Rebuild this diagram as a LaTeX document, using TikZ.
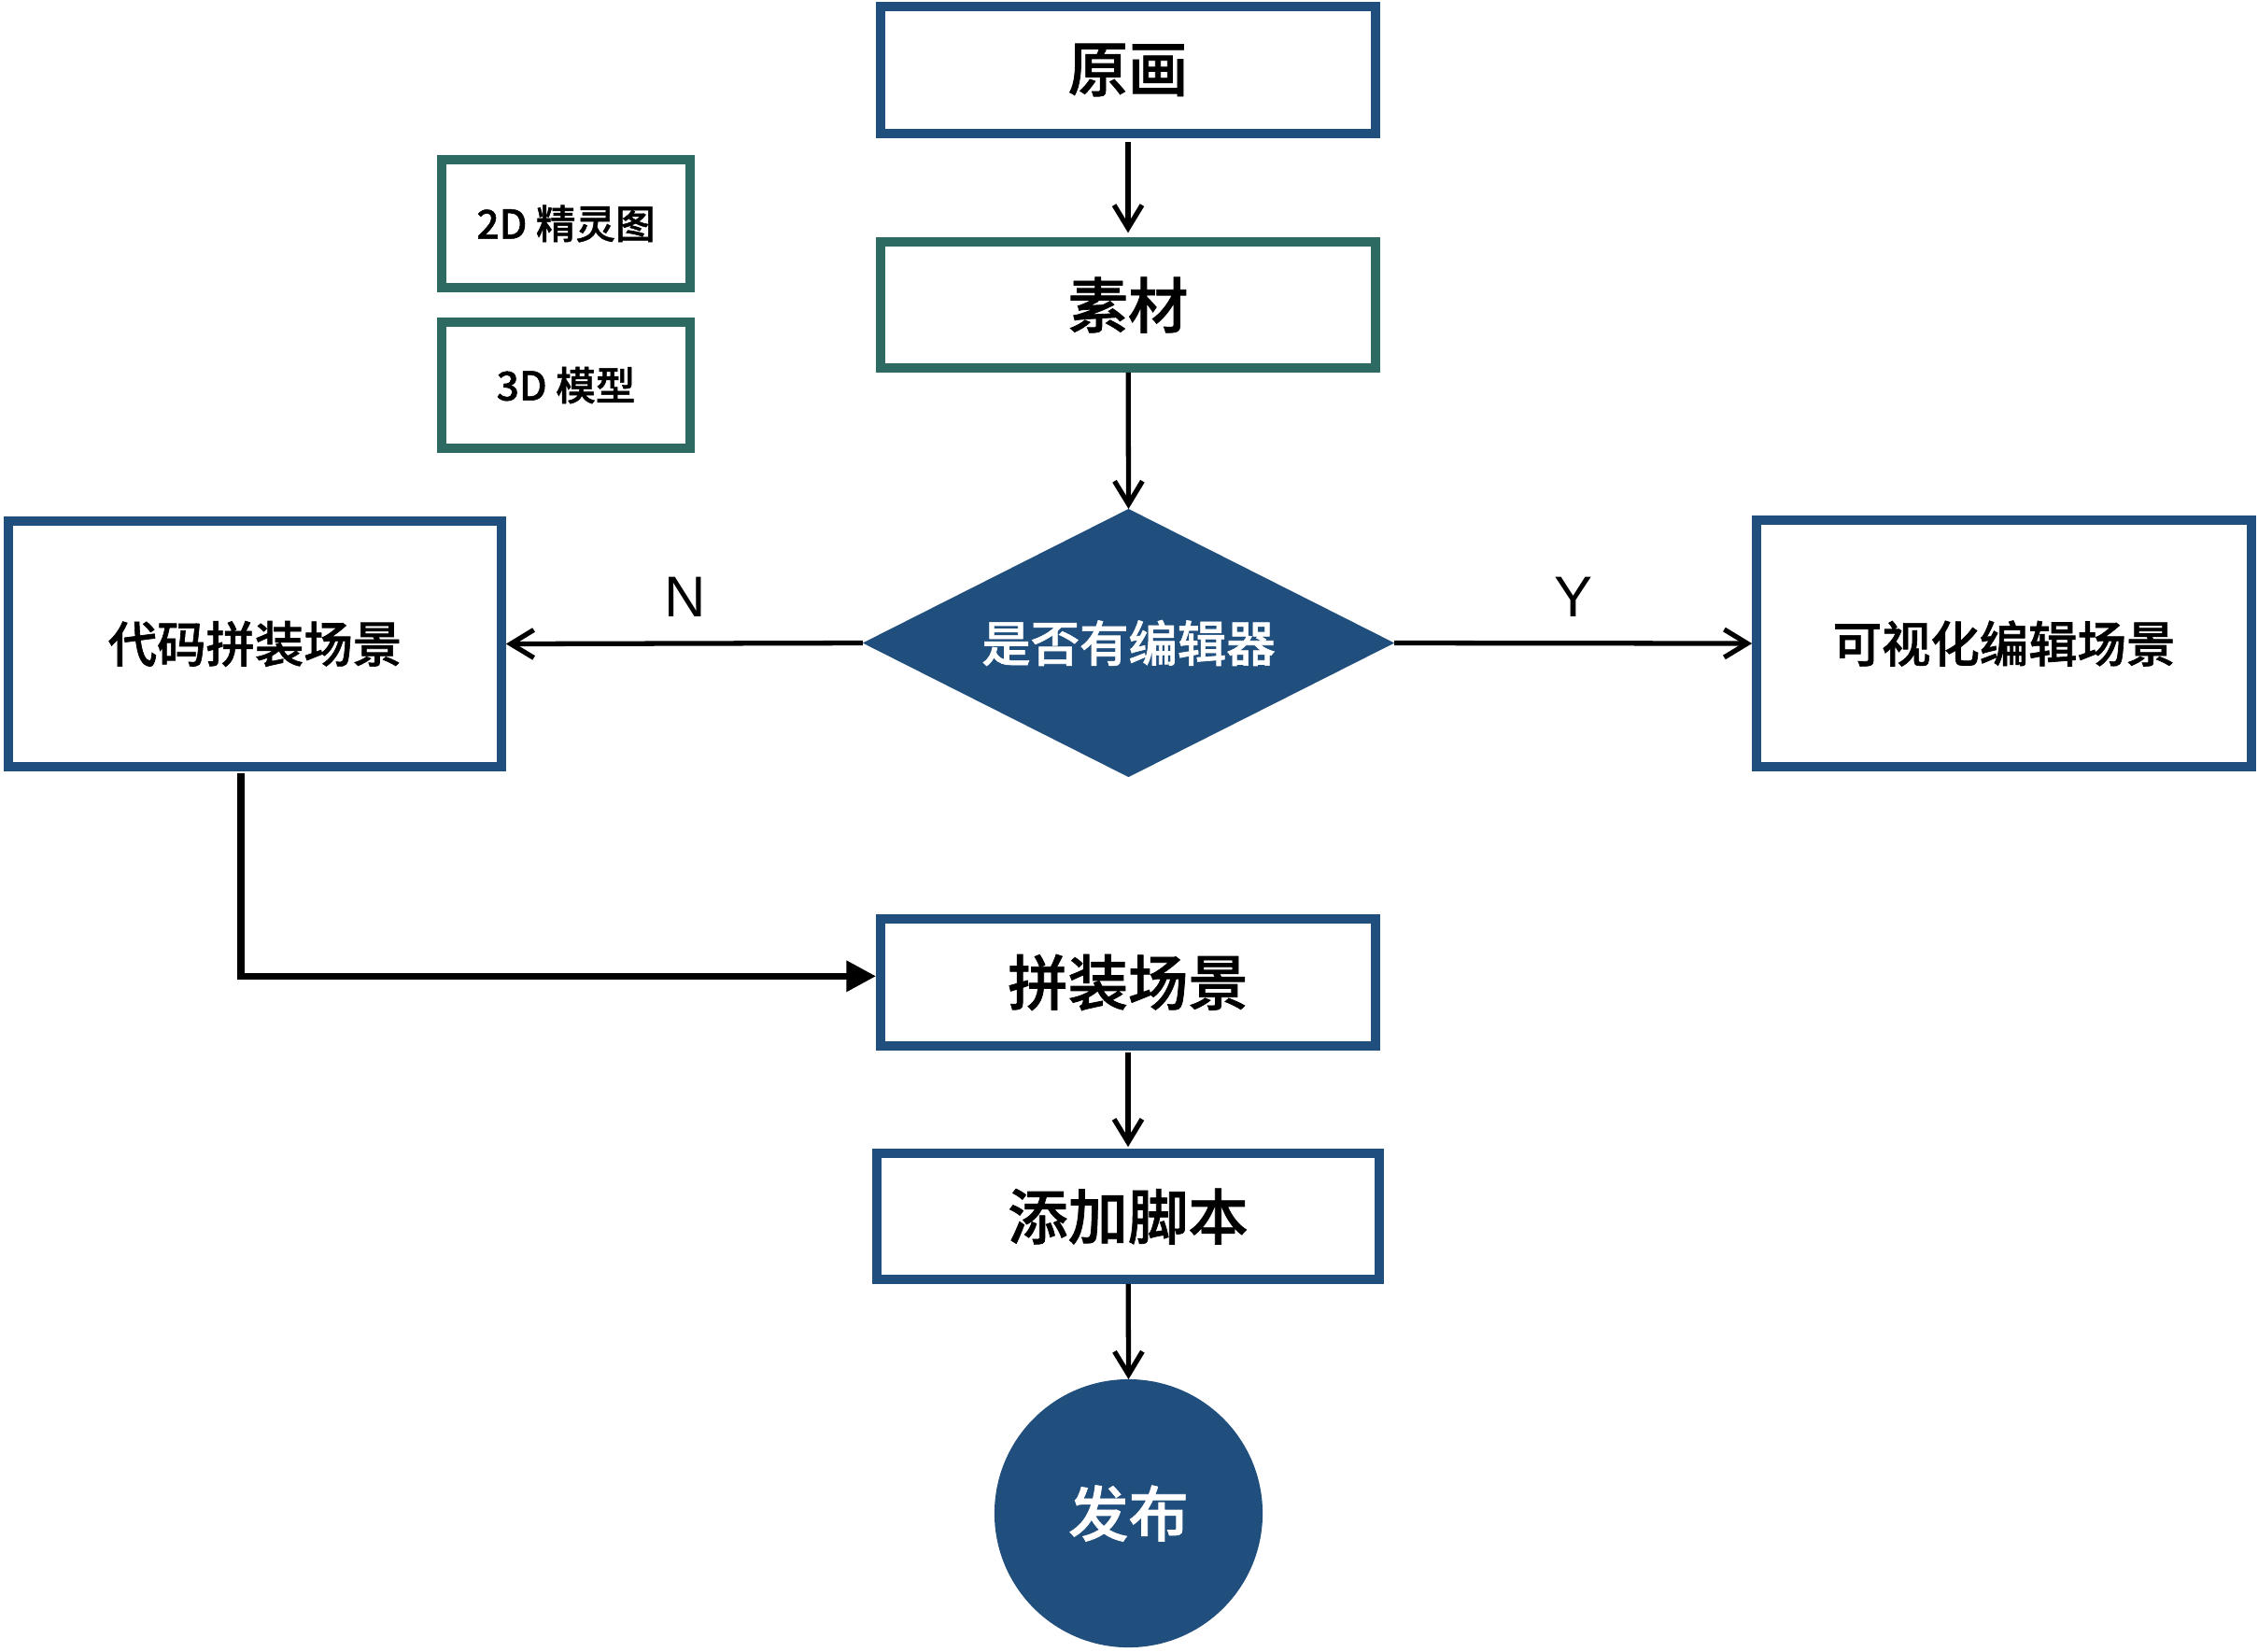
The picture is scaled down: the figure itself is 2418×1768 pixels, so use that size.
\documentclass[tikz,border=0pt]{standalone}
\usepackage{fontspec}
\newfontfamily\cjk{Noto Sans CJK SC}[UprightFont=* Medium, UprightFeatures={FakeBold=1.2}]
\newfontfamily\lat{Liberation Sans}
\usetikzlibrary{shapes.geometric,arrows.meta}
\definecolor{dblue}{RGB}{32,78,125}
\definecolor{dgreen}{RGB}{45,107,98}
\begin{document}
\begin{tikzpicture}[x=0.01cm,y=-0.01cm,
  bigtxt/.style={font=\cjk\fontsize{18.3pt}{22pt}\selectfont},
  midtxt/.style={font=\cjk\fontsize{14.9pt}{18pt}\selectfont},
  smalltxt/.style={font=\cjk\fontsize{12.1pt}{15pt}\selectfont},
  bluebox/.style={draw=dblue, line width=2.7pt, fill=white, inner sep=0pt},
  greenbox/.style={draw=dgreen, line width=2.7pt, fill=white, inner sep=0pt},
  arr/.style={line width=1.5pt, -{Straight Barb[length=7pt,width=8.5pt,line width=1.5pt]}},
  fatarr/.style={line width=2.1pt, -{Triangle[length=9pt,width=9pt]}},
  lbl/.style={font=\lat\fontsize{17.5pt}{20pt}\selectfont}]
\useasboundingbox (0,0) rectangle (2418,1768);

\node[bluebox, bigtxt, minimum width=5.30cm, minimum height=1.36cm] (yuanhua) at (1208,75) {原画};
\node[greenbox, bigtxt, minimum width=5.30cm, minimum height=1.35cm] (sucai) at (1208,326.5) {素材};
\node[greenbox, smalltxt, minimum width=2.66cm, minimum height=1.37cm] (sprite) at (606,239.5) {2D 精灵图};
\node[greenbox, smalltxt, minimum width=2.66cm, minimum height=1.35cm] (model) at (606,412.5) {3D 模型};
\node[diamond, fill=dblue, draw=none, outer sep=0pt, inner sep=0pt, aspect=2,
      minimum width=5.69cm, minimum height=2.87cm, midtxt, text=white] (decide) at (1208.5,688.5) {是否有编辑器};
\node[bluebox, midtxt, minimum width=5.28cm, minimum height=2.63cm] (code) at (273,689.5) {代码拼装场景};
\node[bluebox, midtxt, minimum width=5.30cm, minimum height=2.64cm] (visual) at (2146,689) {可视化编辑场景};
\node[bluebox, bigtxt, minimum width=5.30cm, minimum height=1.36cm] (assemble) at (1208,1052) {拼装场景};
\node[bluebox, bigtxt, minimum width=5.38cm, minimum height=1.35cm] (script) at (1208,1302.5) {添加脚本};
\node[circle, fill=dblue, draw=none, outer sep=0pt, minimum size=2.87cm, bigtxt, text=white] (publish) at (1208.5,1620.5) {发布};

\node[lbl] (nlab) at (734,639) {N};
\node[lbl] (ylab) at (1685,639) {Y};

\draw[arr, shorten <=1.2pt, shorten >=1.4pt] (yuanhua) -- (sucai);
\draw[arr] (sucai) -- (decide.north);
\draw[arr] (decide.west) -- (code.east);
\draw[arr] (decide.east) -- (visual.west);
\coordinate (elbowx) at (258,0);
\draw[fatarr, shorten <=0.5pt] (code.south -| elbowx) |- ([yshift=1.9pt]assemble.west);
\draw[arr, shorten <=0.6pt, shorten >=0.6pt] (assemble) -- (script);
\draw[arr] (script) -- (publish.north);
\end{tikzpicture}
\end{document}
